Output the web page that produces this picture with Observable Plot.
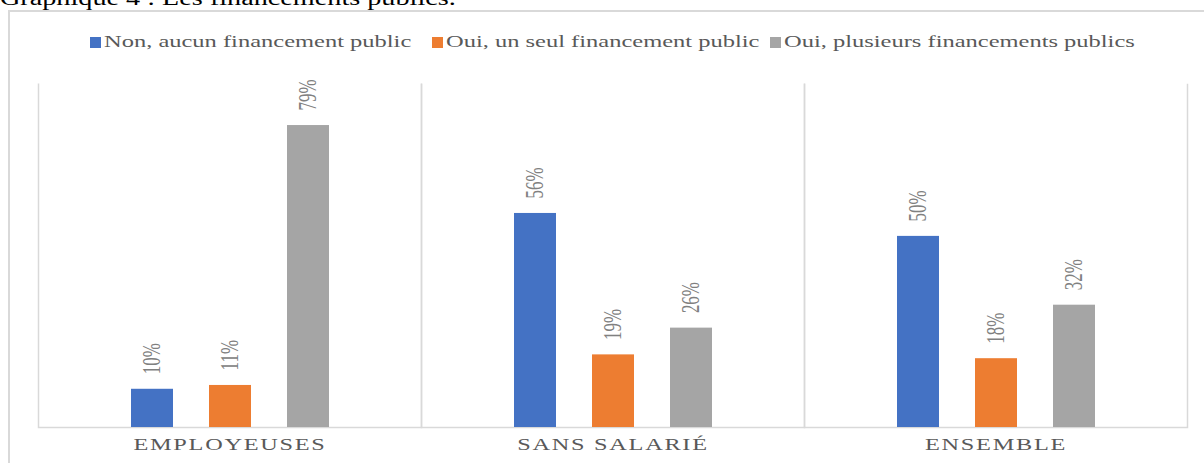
<!DOCTYPE html>
<html>
<head>
<meta charset="utf-8">
<script src="https://cdn.jsdelivr.net/npm/d3@7"></script>
<script src="https://cdn.jsdelivr.net/npm/@observablehq/plot@0.6"></script>
<style>
  html, body { margin: 0; padding: 0; background: #fff; overflow: hidden; width: 1204px; height: 463px; }
  body { position: relative; font-family: "Liberation Serif", "Times New Roman", serif; }
  #title { position: absolute; left: 0; top: -12px; font-size: 20px; line-height: 20px; color: #000; white-space: nowrap; transform: scaleX(1.41); transform-origin: left center; }
  #box { position: absolute; left: 8px; top: 10px; width: 1240px; height: 500px; border: 2px solid #d9d9d9; box-sizing: border-box; }
  #legend { position: absolute; left: 0; top: 32px; width: 1204px; height: 20px; }
  .sw { position: absolute; top: 5px; width: 11px; height: 11px; }
  .lt { position: absolute; top: 0; font-size: 17px; line-height: 20px; color: #595959; white-space: nowrap; transform: scaleX(1.44); transform-origin: left center; }
  #chart { position: absolute; left: 0; top: 60px; }
</style>
</head>
<body>
<div id="title">Graphique 4 : Les financements publics.</div>
<div id="box"></div>
<div id="legend"></div>
<div id="chart"></div>
<script>
// ---- data ----
const categories = ["EMPLOYEUSES", "SANS SALARIÉ", "ENSEMBLE"];
const seriesNames = ["Non, aucun financement public", "Oui, un seul financement public", "Oui, plusieurs financements publics"];
const nonAucun = [10, 56, 50];
const ouiUnSeul = [11, 19, 18];
const ouiPlusieurs = [79, 26, 32];
const seriesColors = ["#4472C4", "#ED7D31", "#A5A5A5"];

const seriesValues = [nonAucun, ouiUnSeul, ouiPlusieurs];
const rows = [];
categories.forEach((c, ci) => {
  seriesNames.forEach((s, si) => rows.push({cat: c, series: s, value: seriesValues[si][ci]}));
});

// ---- legend (HTML) ----
const legendSwatchX = [90, 432, 770];
const legend = document.getElementById("legend");
seriesNames.forEach((s, i) => {
  const sw = document.createElement("div");
  sw.className = "sw";
  sw.style.left = legendSwatchX[i] + "px";
  sw.style.background = seriesColors[i];
  legend.appendChild(sw);
  const t = document.createElement("div");
  t.className = "lt";
  t.style.left = (legendSwatchX[i] + 14) + "px";
  t.textContent = s;
  legend.appendChild(t);
});

// ---- chart ----
const W = 1204, H = 403, mL = 38, mR = 16.5, mT = 23, mB = 36;
const fw = (W - mL - mR) / categories.length;
const fh = H - mT - mB;
const font = '"Liberation Serif", "Times New Roman", serif';

const svg = Plot.plot({
  width: W,
  height: H,
  marginLeft: mL,
  marginRight: mR,
  marginTop: mT,
  marginBottom: mB,
  style: {fontFamily: font, background: "transparent"},
  fx: {domain: categories, padding: 0, axis: null},
  x: {domain: seriesNames, paddingInner: 0.465, paddingOuter: 1.175, axis: null},
  y: {domain: [0, 90], axis: null},
  color: {domain: seriesNames, range: seriesColors},
  marks: [
    Plot.frame({stroke: "#d9d9d9", strokeWidth: 1.5, strokeDasharray: `0 ${fw} ${2 * fh + fw}`}),
    Plot.barY(rows, {fx: "cat", x: "series", y: "value", fill: "series"}),
    Plot.text(rows, {
      fx: "cat", x: "series", y: "value", text: d => d.value + "%",
      rotate: -90, textAnchor: "start", dy: -15,
      fill: "#808080", fontSize: 17
    }),
    Plot.text(categories, {
      fx: d => d, text: d => d, frameAnchor: "bottom", dy: 22,
      fill: "#595959", fontSize: 17
    })
  ]
});
document.getElementById("chart").appendChild(svg);

// horizontal stretch of glyphs, as in the reference rendering
svg.querySelectorAll("text").forEach(t => {
  const content = t.textContent;
  const isCat = categories.includes(content);
  const isVal = /%$/.test(content);
  if (!isCat && !isVal) return;
  let tr = t.getAttribute("transform");
  if (!tr) {
    const x = t.getAttribute("x") || 0, y = t.getAttribute("y") || 0;
    t.removeAttribute("x"); t.removeAttribute("y");
    tr = `translate(${x},${y})`;
  }
  if (isVal) {
    t.setAttribute("transform", tr + " scale(1,1.45)");
  } else {
    t.setAttribute("transform", tr + " scale(1.43,1)");
    t.setAttribute("letter-spacing", "1.2");
  }
});
</script>
</body>
</html>
